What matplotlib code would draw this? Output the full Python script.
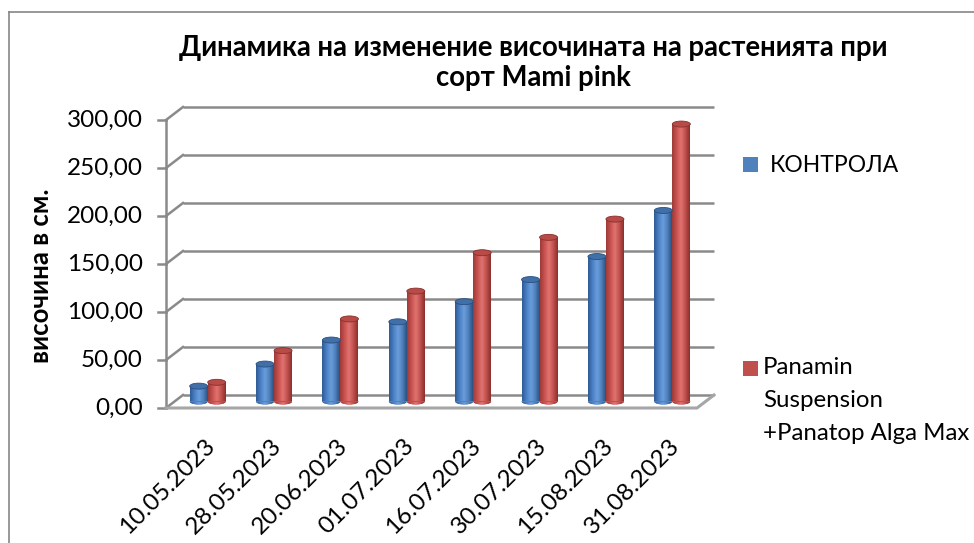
import matplotlib
matplotlib.use('Agg')
import matplotlib.pyplot as plt
import numpy as np
from matplotlib.patches import Ellipse, Rectangle
from matplotlib.lines import Line2D
from matplotlib.colors import LinearSegmentedColormap

plt.rcParams['font.family'] = ['Lato', 'Open Sans', 'DejaVu Sans']

# data
dates = ['10.05.2023', '28.05.2023', '20.06.2023', '01.07.2023',
         '16.07.2023', '30.07.2023', '15.08.2023', '31.08.2023']
kontrola = [16, 39, 64, 83, 104, 127, 151, 199]
panamin = [20, 53, 86, 115, 155, 171, 190, 289]
yticks = [0, 50, 100, 150, 200, 250, 300]
names = ['КОНТРОЛА', 'Panamin\nSuspension\n+Panatop Alga Max']
title = 'Динамика на изменение височината на растенията при\nсорт Mami pink'
ylabel = 'височина в см.'

W, H = 974, 543
fig = plt.figure(figsize=(W / 100, H / 100), dpi=100)

# front plane of the fake 3d box, in pixels from top-left
L, R, B, T = 166, 697, 408, 120
ax = fig.add_axes([L / W, 1 - B / H, (R - L) / W, (B - T) / H])
ax.set_xlim(-0.5, 7.5)
ax.set_ylim(0, 300)
ax.set_autoscale_on(False)
ax.axis('off')

pxx = (R - L) / 8.0      # px per category
pxy = (B - T) / 300.0    # px per unit
DX, DY = 17 / pxx, 13 / pxy   # depth offset in data units

GRID = '#8a8a8a'
lw = 1.8
FS = 17.5

# back wall gridlines + side wall diagonals + ticks
for v in yticks:
    ax.plot([-0.5 + DX, 7.5 + DX], [v + DY, v + DY], color=GRID, lw=lw, clip_on=False, zorder=1,
            solid_capstyle='butt')
    ax.plot([-0.5, -0.5 + DX], [v, v + DY], color=GRID, lw=lw, clip_on=False, zorder=1)
    ax.plot([-0.5 - 8 / pxx, -0.5], [v, v], color=GRID, lw=lw, clip_on=False, zorder=1)
    ax.text(-0.5 - 23 / pxx, v, ('%.2f' % v).replace('.', ','), ha='right', va='center',
            fontsize=FS, color='black')

ax.plot([-0.5, -0.5], [0, 300], color=GRID, lw=lw, clip_on=False, zorder=1)
# floor
ax.plot([-0.5, 7.5, 7.5 + DX], [0, 0, DY], color='#a6a6a6', lw=2.2, clip_on=False, zorder=1)

# cylinders
w = 18 / pxx
eh = 6 / pxy
base = DY / 2
grad = np.linspace(0, 1, 64).reshape(1, -1)
styles = [
    (kontrola, -w / 2, ['#2f5b94', '#4a7fc4', '#6b9ddb', '#4f81bd', '#2b5080'], '#416fa8', '#2a4f80'),
    (panamin, w / 2, ['#9c3a37', '#c9524f', '#e07471', '#c0504d', '#8a302d'], '#b84a47', '#8a302d'),
]
for vals, off, cols, topc, edgec in styles:
    cmap = LinearSegmentedColormap.from_list('c', cols)
    xs = np.arange(len(vals)) + DX / 2 + off
    bars = ax.bar(xs, vals, width=w, bottom=base, color=cols[3], lw=0, zorder=3, clip_on=False)
    for x, v, bar in zip(xs, vals, bars):
        bot = Ellipse((x, base), w, eh, facecolor=cols[3], lw=0, zorder=2.9, clip_on=False)
        ax.add_patch(bot)
        for clip in (bar, bot):
            im = ax.imshow(grad, cmap=cmap, aspect='auto', extent=(x - w / 2, x + w / 2, base - eh, base + v),
                           zorder=clip.get_zorder() + 0.01, interpolation='bilinear')
            im.set_clip_path(clip)
        ax.add_patch(Ellipse((x, base + v), w, eh, facecolor=topc, edgecolor=edgec, lw=0.6,
                             zorder=4, clip_on=False))

# category labels
for i, d in enumerate(dates):
    ax.text(i + 5 / pxx, -27 / pxy, d, rotation=45, rotation_mode='anchor', ha='right', va='top',
            fontsize=FS, color='black')

# title and axis title
fig.text(533 / W, 1 - 63 / H, title, ha='center', va='center', fontsize=19.8, fontweight='bold',
         linespacing=1.2)
fig.text(41 / W, 1 - 276 / H, ylabel, rotation=90, ha='center', va='center', fontsize=18.5,
         fontweight='bold')

# legend
fig.patches.append(Rectangle((743 / W, 1 - 172 / H), 15 / W, 15 / H, transform=fig.transFigure,
                             facecolor='#4f81bd', lw=0))
fig.patches.append(Rectangle((743 / W, 1 - 376 / H), 15 / W, 15 / H, transform=fig.transFigure,
                             facecolor='#c0504d', lw=0))
fig.text(770 / W, 1 - 165 / H, names[0], ha='left', va='center', fontsize=16.5)
for k, line in enumerate(names[1].split('\n')):
    fig.text(763 / W, 1 - (368 + 32.5 * k) / H, line, ha='left', va='center', fontsize=17.3)

# outer chart frame (cut off on the right/bottom)
fig.add_artist(Line2D([8.5 / W, 8.5 / W], [0, 1 - 12 / H], color='#868686', lw=1.2))
fig.add_artist(Line2D([8.5 / W, 1], [1 - 12 / H, 1 - 12 / H], color='#868686', lw=1.2))

fig.savefig('out.png', dpi=100)
